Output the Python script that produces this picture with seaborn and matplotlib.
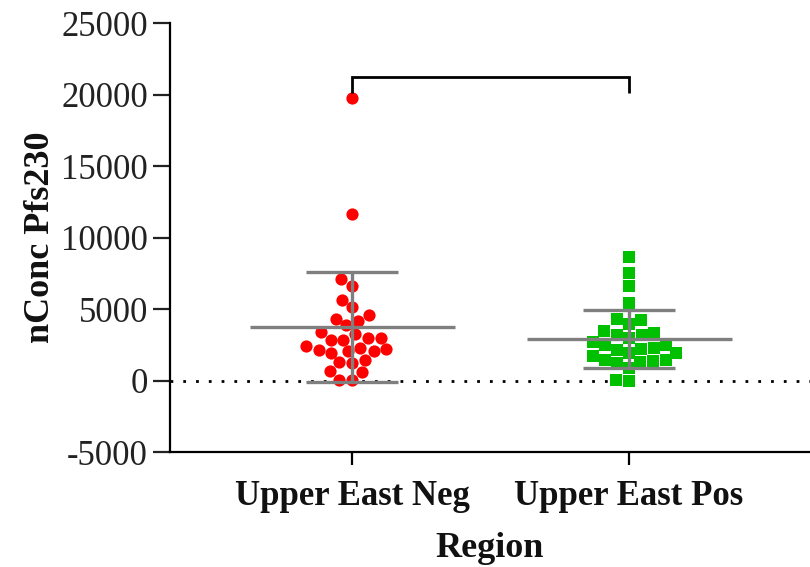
import numpy as np
import pandas as pd
import matplotlib
matplotlib.use("Agg")
import matplotlib.pyplot as plt
import seaborn as sns

# Pfs230 concentration per sample, by region group
regions = ["Upper East Neg", "Upper East Pos"]
neg_values = [19740, 11660, 7110, 6640, 5660, 5130, 4590, 4310, 4150, 3850,
              3380, 3220, 2990, 2990, 2850, 2850, 2380, 2290, 2220, 2100,
              2050, 2050, 1940, 1450, 1280, 1240, 650, 580, 50, 50]
pos_values = [8620, 7530, 6640, 5410, 4300, 4200, 3960, 3450, 3300, 3200,
              3150, 3000, 2700, 2500, 2450, 2240, 2200, 2100, 1950, 1900,
              1700, 1400, 1400, 1330, 1300, 1200, 900, 50, 0]
yticks = [-5000, 0, 5000, 10000, 15000, 20000, 25000]
colors = {"Upper East Neg": "#ff0000", "Upper East Pos": "#00c000"}
markers = {"Upper East Neg": "o", "Upper East Pos": "s"}

df = pd.DataFrame({
    "Region": [regions[0]] * len(neg_values) + [regions[1]] * len(pos_values),
    "nConc": neg_values + pos_values,
})

sns.set_style("ticks")
plt.rcParams["font.family"] = ["Liberation Serif", "DejaVu Serif"]

fig = plt.figure(figsize=(8.1, 5.67), dpi=100)
ax = fig.add_axes([0.21, 0.2028, 0.79, 0.7566])

for reg in regions:
    sub = df[df["Region"] == reg]
    sns.swarmplot(data=sub, x="Region", y="nConc", order=regions,
                  color=colors[reg], marker=markers[reg], size=8.8,
                  linewidth=0, ax=ax, zorder=3, warn_thresh=1)

# mean and SD bars
for i, reg in enumerate(regions):
    vals = df.loc[df["Region"] == reg, "nConc"].to_numpy()
    m, s = vals.mean(), vals.std(ddof=1)
    kw = dict(color="#7f7f7f", linewidth=2.4, zorder=4)
    ax.hlines(m, i - 0.37, i + 0.37, **kw)
    ax.vlines(i, m - s, m + s, **kw)
    ax.hlines([m - s, m + s], i - 0.165, i + 0.165, **kw)

# zero reference line
ax.axhline(0, color="black", linewidth=2.0, linestyle=(0, (1, 3.6)), zorder=2)

# comparison bracket
ax.plot([0, 0, 1, 1], [20140, 21260, 21260, 20140], color="black",
        linewidth=2.0, solid_capstyle="butt", solid_joinstyle="miter",
        clip_on=False, zorder=5)

ax.set_xlim(-0.657, 1.653)
ax.set_ylim(-5000, 25000)
ax.set_yticks(yticks)
ax.set_yticklabels([str(t) for t in yticks])
sns.despine(ax=ax)
for side in ["left", "bottom"]:
    ax.spines[side].set_linewidth(1.6)
    ax.spines[side].set_color("black")
ax.tick_params(axis="y", length=12, width=1.6, labelsize=25, pad=4, colors="#222222")
ax.tick_params(axis="x", length=9, width=1.6, labelsize=25, pad=11, colors="black")
for lab in ax.get_xticklabels():
    lab.set_fontweight("bold")
    lab.set_color("#111111")

ax.set_xlabel("Region", fontsize=26, fontweight="bold", labelpad=14, color="#111111")
ax.set_ylabel("nConc Pfs230", fontsize=26, fontweight="bold", labelpad=3, color="#111111")

fig.savefig("out.png", dpi=100)
